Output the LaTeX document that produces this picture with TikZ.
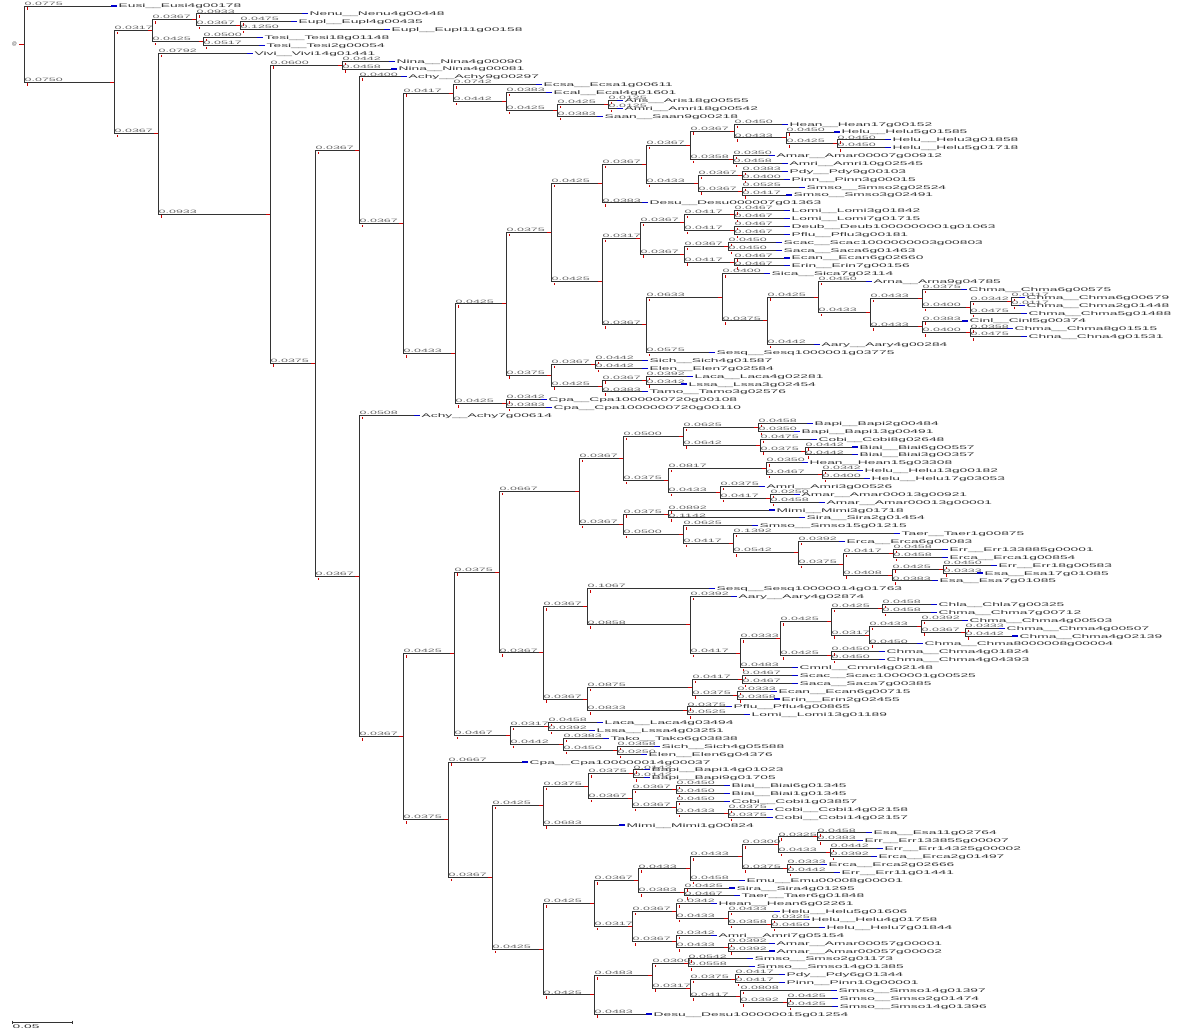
\documentclass[tikz,border=0pt]{standalone}
\usepackage{fontspec}
\setmainfont{Liberation Sans}
\newfontfamily\lff[FakeStretch=2.6]{Liberation Sans}
\usetikzlibrary{calc}
\tikzset{
  br/.style={line width=0.85pt, draw=black!80},
  bl/.style={line width=1.2pt, draw=blue!80!black},
  rt/.style={line width=0.85pt, draw=red!80!black},
  rm/.style={line width=0.6pt, draw=red!80!black},
  leaf/.style={anchor=west, inner xsep=1.5pt, inner ysep=0pt, text height=4pt, text depth=0pt, text=black!80, font=\lff\fontsize{5.3}{6}\selectfont},
  lbl/.style={anchor=south west, inner xsep=0.5pt, inner ysep=0.6pt, text=black!60, font=\lff\fontsize{4.8}{5.3}\selectfont},
}
\newcommand\tzlen[2]{%
  \path (#1); \pgfgetlastxy{\tzxa}{\tzya}%
  \path (#2); \pgfgetlastxy{\tzxb}{\tzyb}%
  \pgfmathsetmacro\tzbl{(\tzxb-\tzxa)/1200}}
\newcommand\tzlab[2]{%
  \tzlen{#1}{#2}%
  \node[lbl] at (#1 |- #2) {\pgfmathprintnumber[fixed,zerofill,precision=4,assume math mode=true]{\tzbl}};
  \draw[rm] ($(#1 |- #2)+(3,1.4)$) -- ++(0,2.4);}
\newcommand\tedge[2]{%
  \draw[br] (#1) |- (#2);
  \draw[rt] (#2) -- ++(-4,0);
  \tzlab{#1}{#2}}
\newcommand\tleaf[5]{%
  \node[leaf] (l#2) at (#3,{6+7.875*#2}) {#4\_\_#5};
  \draw[br] (#1) |- (l#2.west);
  \draw[bl] (l#2.west) -- ++(-6,0);
  \tzlab{#1}{l#2.west}}
\begin{document}
\begin{tikzpicture}[x=1pt,y=-1pt]
\useasboundingbox (0,0) rectangle (1200,1032);
\fill[white] (0,0) rectangle (1200,1032);
% internal nodes
\coordinate (root) at (24,44.05);
\coordinate (A) at (114,82.1);
\coordinate (B) at (152,30.6);
\coordinate (C) at (196,19.8);
\coordinate (D) at (240,25.7);
\coordinate (E) at (203,41.45);
\coordinate (F) at (158,133.6);
\coordinate (G) at (270,214);
\coordinate (H) at (342,65.05);
\coordinate (I) at (315,363.1);
\coordinate (J) at (359,150.15);
\coordinate (K) at (403,223.45);
\coordinate (L) at (453,93.1);
\coordinate (M) at (506,101.5);
\coordinate (N) at (557,110.35);
\coordinate (O) at (608,104.45);
\coordinate (P) at (455,353.8);
\coordinate (S) at (506,303.9);
\coordinate (Q) at (551,232.6);
\coordinate (X) at (602,183.6);
\coordinate (Y) at (646,164.2);
\coordinate (Z) at (690,145.3);
\coordinate (Z1) at (734,131);
\coordinate (Z2) at (786,137.9);
\coordinate (Z3) at (837,143.8);
\coordinate (Z4) at (733,159.55);
\coordinate (Z5) at (698,183.2);
\coordinate (Z6) at (742,175.3);
\coordinate (Z7) at (742,191.05);
\coordinate (R) at (602,281.6);
\coordinate (R1) at (640,238.3);
\coordinate (R2) at (684,222.6);
\coordinate (R3) at (734,214.7);
\coordinate (R4) at (734,230.45);
\coordinate (R5) at (684,254.1);
\coordinate (R6) at (728,246.2);
\coordinate (R7) at (734,261.95);
\coordinate (R8) at (646,324.9);
\coordinate (R9) at (722,297.3);
\coordinate (R10) at (767,320.9);
\coordinate (R11) at (818,297.1);
\coordinate (R12) at (870,312.6);
\coordinate (R13) at (922,298.4);
\coordinate (R14) at (970,307.2);
\coordinate (R15) at (1011,301.3);
\coordinate (R16) at (922,326.9);
\coordinate (R17) at (970,332.8);
\coordinate (U) at (551,375.1);
\coordinate (V) at (595,364.3);
\coordinate (W) at (602,386);
\coordinate (W1) at (646,380);
\coordinate (T) at (506,403.7);
\coordinate (AA) at (359,576.1);
\coordinate (AB) at (403,736.7);
\coordinate (AC) at (454,653.7);
\coordinate (AD) at (499,572);
\coordinate (AF) at (579,491.2);
\coordinate (AG) at (623,458.3);
\coordinate (AH) at (683,436.2);
\coordinate (AI) at (758,427.3);
\coordinate (AJ) at (760,445);
\coordinate (AK) at (805,450.95);
\coordinate (AL) at (668,480.5);
\coordinate (AM) at (766,468.65);
\coordinate (AN) at (822,474.55);
\coordinate (AO) at (720,492.3);
\coordinate (AP) at (770,498.2);
\coordinate (AQ) at (623,524.2);
\coordinate (AR) at (668,514);
\coordinate (X1) at (683,534.5);
\coordinate (X2) at (733,543.2);
\coordinate (BG) at (798,552.8);
\coordinate (BH) at (843,564.2);
\coordinate (BI) at (893,553.3);
\coordinate (BJ) at (892,575);
\coordinate (BK) at (943,569.05);
\coordinate (BA) at (543,652.9);
\coordinate (BB) at (587,606.8);
\coordinate (BC) at (690,624.85);
\coordinate (BD) at (740,653.1);
\coordinate (BE) at (780,638.7);
\coordinate (BF) at (831,621.7);
\coordinate (BL) at (882,608.45);
\coordinate (BM) at (869,635);
\coordinate (BN) at (921,626.15);
\coordinate (BO) at (965,632.05);
\coordinate (BP) at (831,655.7);
\coordinate (BQ) at (587,699);
\coordinate (BR) at (692,687.2);
\coordinate (BS) at (742,679.3);
\coordinate (BT) at (737,695.05);
\coordinate (BU) at (687,710.8);
\coordinate (AE) at (510,735.4);
\coordinate (BV) at (548,726.55);
\coordinate (BW) at (563,744.3);
\coordinate (BX) at (617,750.2);
\coordinate (CA) at (448,819.7);
\coordinate (CB) at (492,877.45);
\coordinate (CC) at (543,805.6);
\coordinate (CD) at (588,786.1);
\coordinate (CE) at (633,773.8);
\coordinate (CF) at (632,798.4);
\coordinate (CG) at (676,789.5);
\coordinate (CH) at (676,807.3);
\coordinate (CI) at (728,813.2);
\coordinate (CJ) at (543,949.3);
\coordinate (CK) at (594,903.7);
\coordinate (CL) at (638,880.8);
\coordinate (CM) at (690,868.85);
\coordinate (CN) at (742,856.8);
\coordinate (CO) at (778,844.7);
\coordinate (CP) at (817,836.85);
\coordinate (CQ) at (830,852.6);
\coordinate (CR) at (787,868.85);
\coordinate (CS) at (684,892.7);
\coordinate (CT) at (632,926.6);
\coordinate (CU) at (676,911.4);
\coordinate (CV) at (728,918.3);
\coordinate (CW) at (771,924.2);
\coordinate (CX) at (676,941.8);
\coordinate (CY) at (728,947.7);
\coordinate (CZ) at (594,994.9);
\coordinate (DA) at (652,975.75);
\coordinate (DB) at (688,963.45);
\coordinate (DC) at (690,988.05);
\coordinate (DD) at (735,979.2);
\coordinate (DE) at (740,996.9);
\coordinate (DF) at (787,1002.8);
% root mark
\node[inner sep=0pt, text=black!70, font=\fontsize{5}{5}\selectfont] (rootmark) at (14.5,44) {@};
\draw[rt] (root) -- ++(-5,0);
% top clade
\tleaf{root}{0}{117}{Eusi}{Eusi4g00178}
\tedge{root}{A}
\tedge{A}{B}
\tedge{A}{F}
\tedge{B}{C}
\tedge{B}{E}
\tleaf{C}{1}{308}{Nenu}{Nenu4g00448}
\tedge{C}{D}
\tleaf{D}{2}{297}{Eupl}{Eupl4g00435}
\tleaf{D}{3}{390}{Eupl}{Eupl11g00158}
\tleaf{E}{4}{263}{Tesi}{Tesi18g01148}
\tleaf{E}{5}{265}{Tesi}{Tesi2g00054}
\tleaf{F}{6}{253}{Vivi}{Vivi14g01441}
\tedge{F}{G}
\tedge{G}{H}
\tedge{G}{I}
\tleaf{H}{7}{395}{Nina}{Nina4g00090}
\tleaf{H}{8}{397}{Nina}{Nina4g00081}
\tedge{I}{J}
\tedge{I}{AA}
\tleaf{J}{9}{407}{Achy}{Achy9g00297}
\tedge{J}{K}
\tedge{K}{L}
\tedge{K}{P}
\tleaf{L}{10}{542}{Ecsa}{Ecsa1g00611}
\tedge{L}{M}
\tleaf{M}{11}{552}{Ecal}{Ecal4g01601}
\tedge{M}{N}
\tedge{N}{O}
\tleaf{N}{14}{603}{Saan}{Saan9g00218}
\tleaf{O}{12}{623}{Aris}{Aris18g00555}
\tleaf{O}{13}{623}{Amri}{Amri18g00542}
\tedge{P}{S}
\tedge{P}{T}
\tedge{S}{Q}
\tedge{S}{U}
\tedge{Q}{X}
\tedge{Q}{R}
\tedge{X}{Y}
\tleaf{X}{25}{648}{Desu}{Desu000007g01363}
\tedge{Y}{Z}
\tedge{Y}{Z5}
\tedge{Z}{Z1}
\tedge{Z}{Z4}
\tleaf{Z1}{15}{788}{Hean}{Hean17g00152}
\tedge{Z1}{Z2}
\tleaf{Z2}{16}{840}{Helu}{Helu5g01585}
\tedge{Z2}{Z3}
\tleaf{Z3}{17}{891}{Helu}{Helu3g01858}
\tleaf{Z3}{18}{891}{Helu}{Helu5g01718}
\tleaf{Z4}{19}{775}{Amar}{Amar00007g00912}
\tleaf{Z4}{20}{788}{Amri}{Amri10g02545}
\tedge{Z5}{Z6}
\tedge{Z5}{Z7}
\tleaf{Z6}{21}{788}{Pdy}{Pdy9g00103}
\tleaf{Z6}{22}{790}{Pinn}{Pinn3g00015}
\tleaf{Z7}{23}{805}{Smso}{Smso2g02524}
\tleaf{Z7}{24}{792}{Smso}{Smso3g02491}
\tedge{R}{R1}
\tedge{R}{R8}
\tedge{R1}{R2}
\tedge{R1}{R5}
\tedge{R2}{R3}
\tedge{R2}{R4}
\tleaf{R3}{26}{790}{Lomi}{Lomi3g01842}
\tleaf{R3}{27}{790}{Lomi}{Lomi7g01715}
\tleaf{R4}{28}{790}{Deub}{Deub1000000001g01063}
\tleaf{R4}{29}{790}{Pflu}{Pflu3g00181}
\tedge{R5}{R6}
\tedge{R5}{R7}
\tleaf{R6}{30}{782}{Scac}{Scac1000000003g00803}
\tleaf{R6}{31}{782}{Saca}{Saca6g01463}
\tleaf{R7}{32}{790}{Ecan}{Ecan6g02660}
\tleaf{R7}{33}{790}{Erin}{Erin7g00156}
\tedge{R8}{R9}
\tleaf{R8}{44}{715}{Sesq}{Sesq1000001g03775}
\tleaf{R9}{34}{770}{Sica}{Sica7g02114}
\tedge{R9}{R10}
\tedge{R10}{R11}
\tleaf{R10}{43}{820}{Aary}{Aary4g00284}
\tleaf{R11}{35}{872}{Arna}{Arna9g04785}
\tedge{R11}{R12}
\tedge{R12}{R13}
\tedge{R12}{R16}
\tleaf{R13}{36}{967}{Chma}{Chma6g00575}
\tedge{R13}{R14}
\tedge{R14}{R15}
\tleaf{R14}{39}{1027}{Chma}{Chma5g01488}
\tleaf{R15}{37}{1025}{Chma}{Chma6g00679}
\tleaf{R15}{38}{1025}{Chma}{Chma2g01448}
\tleaf{R16}{40}{968}{Cinl}{Cinl5g00374}
\tedge{R16}{R17}
\tleaf{R17}{41}{1013}{Chma}{Chma8g01515}
\tleaf{R17}{42}{1027}{Chna}{Chna4g01531}
\tedge{U}{V}
\tedge{U}{W}
\tleaf{V}{45}{648}{Sich}{Sich4g01587}
\tleaf{V}{46}{648}{Elen}{Elen7g02584}
\tedge{W}{W1}
\tleaf{W}{49}{648}{Tamo}{Tamo3g02576}
\tleaf{W1}{47}{693}{Laca}{Laca4g02281}
\tleaf{W1}{48}{687}{Lssa}{Lssa3g02454}
\tleaf{T}{50}{547}{Cpa}{Cpa1000000720g00108}
\tleaf{T}{51}{552}{Cpa}{Cpa1000000720g00110}
% lower clade
\tleaf{AA}{52}{420}{Achy}{Achy7g00614}
\tedge{AA}{AB}
\tedge{AB}{AC}
\tedge{AB}{CA}
\tedge{AC}{AD}
\tedge{AC}{AE}
\tedge{AD}{AF}
\tedge{AD}{BA}
\tedge{AF}{AG}
\tedge{AF}{AQ}
\tedge{AG}{AH}
\tedge{AG}{AL}
\tedge{AH}{AI}
\tedge{AH}{AJ}
\tleaf{AI}{53}{813}{Bapi}{Bapi2g00484}
\tleaf{AI}{54}{800}{Bapi}{Bapi13g00491}
\tleaf{AJ}{55}{817}{Cobi}{Cobi8g02648}
\tedge{AJ}{AK}
\tleaf{AK}{56}{858}{Biai}{Biai6g00557}
\tleaf{AK}{57}{858}{Biai}{Biai3g00357}
\tedge{AL}{AM}
\tedge{AL}{AO}
\tleaf{AM}{58}{808}{Hean}{Hean15g03308}
\tedge{AM}{AN}
\tleaf{AN}{59}{863}{Helu}{Helu13g00182}
\tleaf{AN}{60}{870}{Helu}{Helu17g03053}
\tleaf{AO}{61}{765}{Amri}{Amri3g00526}
\tedge{AO}{AP}
\tleaf{AP}{62}{800}{Amar}{Amar00013g00921}
\tleaf{AP}{63}{825}{Amar}{Amar00013g00001}
\tedge{AQ}{AR}
\tedge{AQ}{X1}
\tleaf{AR}{64}{775}{Mimi}{Mimi3g01718}
\tleaf{AR}{65}{805}{Sira}{Sira2g01454}
\tleaf{X1}{66}{758}{Smso}{Smso15g01215}
\tedge{X1}{X2}
\tleaf{X2}{67}{900}{Taer}{Taer1g00875}
\tedge{X2}{BG}
\tleaf{BG}{68}{845}{Erca}{Erca6g00083}
\tedge{BG}{BH}
\tedge{BH}{BI}
\tedge{BH}{BJ}
\tleaf{BI}{69}{948}{Err}{Err133885g00001}
\tleaf{BI}{70}{948}{Erca}{Erca1g00854}
\tedge{BJ}{BK}
\tleaf{BJ}{73}{938}{Esa}{Esa7g01085}
\tleaf{BK}{71}{997}{Err}{Err18g00583}
\tleaf{BK}{72}{983}{Esa}{Esa17g01085}
\tedge{BA}{BB}
\tedge{BA}{BQ}
\tleaf{BB}{74}{715}{Sesq}{Sesq10000014g01763}
\tedge{BB}{BC}
\tleaf{BC}{75}{737}{Aary}{Aary4g02874}
\tedge{BC}{BD}
\tedge{BD}{BE}
\tleaf{BD}{84}{798}{Cmnl}{Cmnl4g02148}
\tedge{BE}{BF}
\tedge{BE}{BP}
\tedge{BF}{BL}
\tedge{BF}{BM}
\tleaf{BL}{76}{937}{Chla}{Chla7g00325}
\tleaf{BL}{77}{937}{Chma}{Chma7g00712}
\tedge{BM}{BN}
\tleaf{BM}{81}{923}{Chma}{Chma8000008g00004}
\tleaf{BN}{78}{968}{Chma}{Chma4g00503}
\tedge{BN}{BO}
\tleaf{BO}{79}{1005}{Chma}{Chma4g00507}
\tleaf{BO}{80}{1018}{Chma}{Chma4g02139}
\tleaf{BP}{82}{885}{Chma}{Chma4g01824}
\tleaf{BP}{83}{885}{Chma}{Chma4g04393}
\tedge{BQ}{BR}
\tedge{BQ}{BU}
\tedge{BR}{BS}
\tedge{BR}{BT}
\tleaf{BS}{85}{798}{Scac}{Scac1000001g00525}
\tleaf{BS}{86}{798}{Saca}{Saca7g00385}
\tleaf{BT}{87}{777}{Ecan}{Ecan6g00715}
\tleaf{BT}{88}{780}{Erin}{Erin2g02455}
\tleaf{BU}{89}{732}{Pflu}{Pflu4g00865}
\tleaf{BU}{90}{750}{Lomi}{Lomi13g01189}
\tedge{AE}{BV}
\tedge{AE}{BW}
\tleaf{BV}{91}{603}{Laca}{Laca4g03494}
\tleaf{BV}{92}{595}{Lssa}{Lssa4g03251}
\tleaf{BW}{93}{609}{Tako}{Tako6g03838}
\tedge{BW}{BX}
\tleaf{BX}{94}{660}{Sich}{Sich4g05588}
\tleaf{BX}{95}{647}{Elen}{Elen6g04376}
\tleaf{CA}{96}{528}{Cpa}{Cpa100000014g00037}
\tedge{CA}{CB}
\tedge{CB}{CC}
\tedge{CB}{CJ}
\tedge{CC}{CD}
\tleaf{CC}{104}{625}{Mimi}{Mimi1g00824}
\tedge{CD}{CE}
\tedge{CD}{CF}
\tleaf{CE}{97}{650}{Bapi}{Bapi14g01023}
\tleaf{CE}{98}{650}{Bapi}{Bapi9g01705}
\tedge{CF}{CG}
\tedge{CF}{CH}
\tleaf{CG}{99}{730}{Biai}{Biai6g01345}
\tleaf{CG}{100}{730}{Biai}{Biai1g01345}
\tleaf{CH}{101}{730}{Cobi}{Cobi1g03857}
\tedge{CH}{CI}
\tleaf{CI}{102}{773}{Cobi}{Cobi14g02158}
\tleaf{CI}{103}{773}{Cobi}{Cobi14g02157}
\tedge{CJ}{CK}
\tedge{CJ}{CZ}
\tedge{CK}{CL}
\tedge{CK}{CT}
\tedge{CL}{CM}
\tedge{CL}{CS}
\tedge{CM}{CN}
\tleaf{CM}{111}{745}{Emu}{Emu00008g00001}
\tedge{CN}{CO}
\tedge{CN}{CR}
\tedge{CO}{CP}
\tedge{CO}{CQ}
\tleaf{CP}{105}{872}{Esa}{Esa11g02764}
\tleaf{CP}{106}{863}{Err}{Err133855g00007}
\tleaf{CQ}{107}{883}{Err}{Err14325g00002}
\tleaf{CQ}{108}{877}{Erca}{Erca2g01497}
\tleaf{CR}{109}{827}{Erca}{Erca2g02666}
\tleaf{CR}{110}{840}{Err}{Err11g01441}
\tleaf{CS}{112}{735}{Sira}{Sira4g01295}
\tleaf{CS}{113}{740}{Taer}{Taer6g01848}
\tedge{CT}{CU}
\tedge{CT}{CX}
\tleaf{CU}{114}{717}{Hean}{Hean6g02261}
\tedge{CU}{CV}
\tleaf{CV}{115}{780}{Helu}{Helu5g01606}
\tedge{CV}{CW}
\tleaf{CW}{116}{810}{Helu}{Helu4g01758}
\tleaf{CW}{117}{825}{Helu}{Helu7g01844}
\tleaf{CX}{118}{717}{Amri}{Amri7g05154}
\tedge{CX}{CY}
\tleaf{CY}{119}{775}{Amar}{Amar00057g00001}
\tleaf{CY}{120}{775}{Amar}{Amar00057g00002}
\tedge{CZ}{DA}
\tleaf{CZ}{128}{652}{Desu}{Desu100000015g01254}
\tedge{DA}{DB}
\tedge{DA}{DC}
\tleaf{DB}{121}{753}{Smso}{Smso2g01173}
\tleaf{DB}{122}{755}{Smso}{Smso14g01385}
\tedge{DC}{DD}
\tedge{DC}{DE}
\tleaf{DD}{123}{785}{Pdy}{Pdy6g01344}
\tleaf{DD}{124}{785}{Pinn}{Pinn10g00001}
\tleaf{DE}{125}{837}{Smso}{Smso14g01397}
\tedge{DE}{DF}
\tleaf{DF}{126}{838}{Smso}{Smso2g01474}
\tleaf{DF}{127}{838}{Smso}{Smso14g01396}
% scale bar
\coordinate (sbA) at (12,1022);
\coordinate (sbB) at (72,1022);
\draw[br] (sbA) -- (sbB);
\draw[br] ($(sbA)+(0,-1.5)$) -- ($(sbA)+(0,1.5)$);
\draw[br] ($(sbB)+(0,-1.5)$) -- ($(sbB)+(0,1.5)$);
\node[leaf, anchor=north west] (sblab) at (11,1024) {0.05};
\end{tikzpicture}
\end{document}
